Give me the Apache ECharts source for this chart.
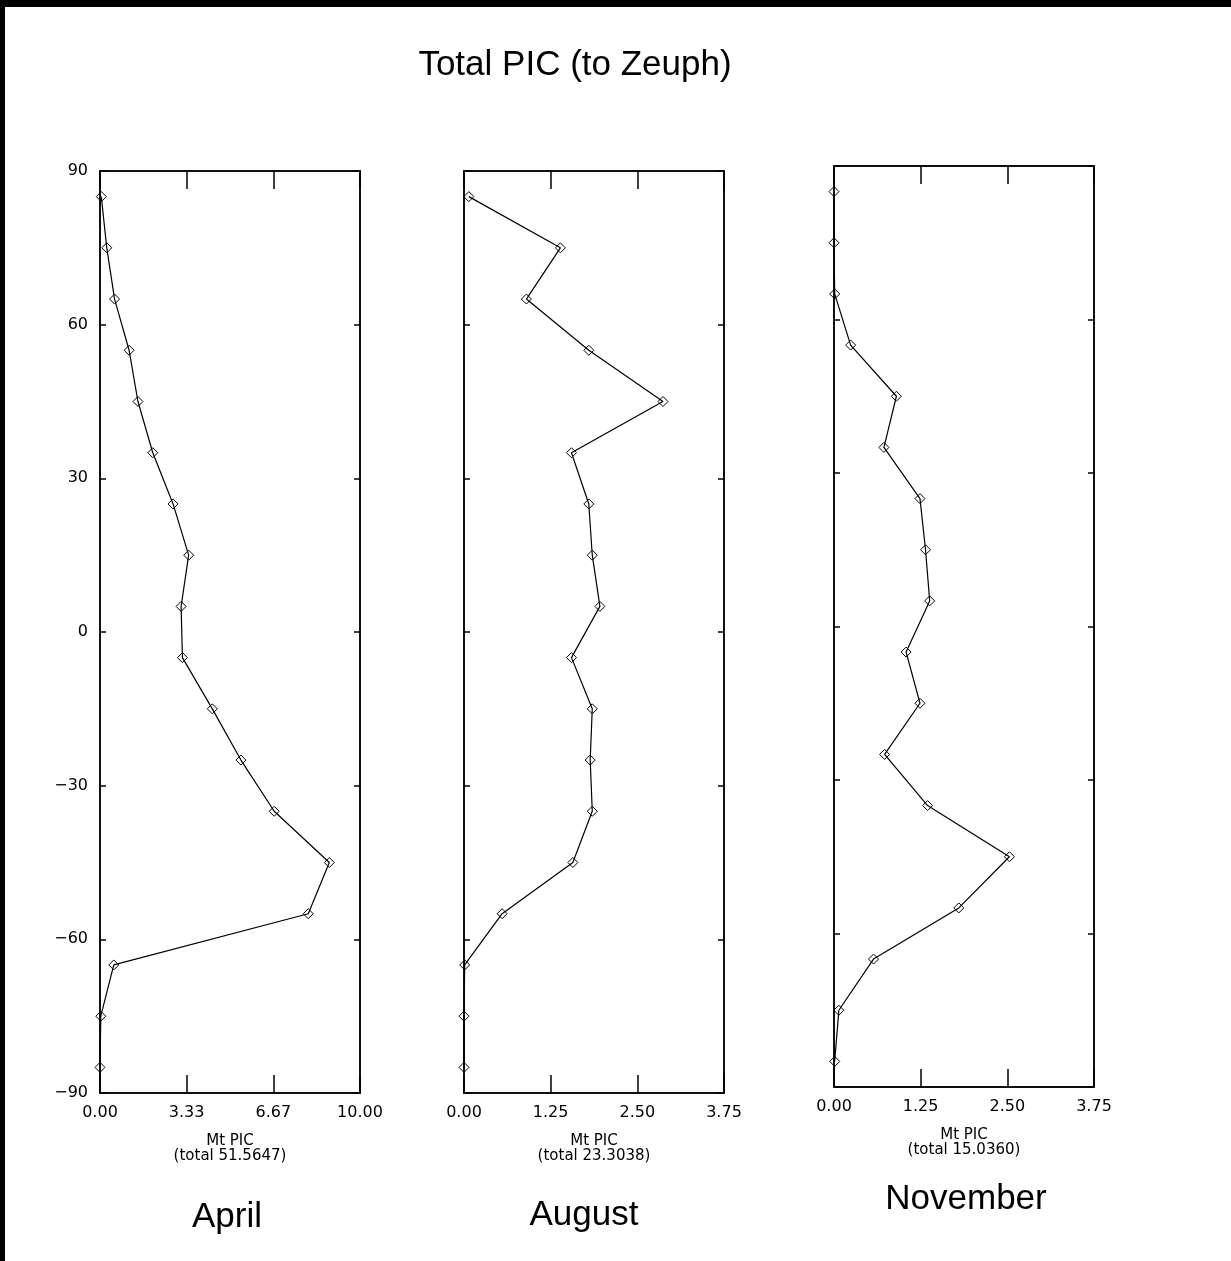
<!DOCTYPE html>
<html>
<head>
<meta charset="utf-8">
<script src="https://cdn.jsdelivr.net/npm/echarts@6/dist/echarts.min.js"></script>
<style>
  html, body { margin: 0; padding: 0; background: #000; }
  #paper { position: absolute; left: 5px; top: 7px; width: 1226px; height: 1254px; background: #fff; }
  #chart { position: absolute; left: 0; top: 0; width: 1231px; height: 1261px; }
</style>
</head>
<body>
<div id="paper"></div>
<div id="chart"></div>
<script>
// latitude bands (deg), one point per 10-degree band
const latitudes = [85, 75, 65, 55, 45, 35, 25, 15, 5, -5, -15, -25, -35, -45, -55, -65, -75, -85];

// Mt PIC per band
const aprilPIC    = [0.05, 0.26, 0.56, 1.12, 1.46, 2.03, 2.81, 3.41, 3.12, 3.17, 4.32, 5.42, 6.70, 8.82, 8.01, 0.53, 0.03, 0.00];
const augustPIC   = [0.07, 1.39, 0.90, 1.80, 2.87, 1.55, 1.80, 1.85, 1.96, 1.55, 1.85, 1.82, 1.85, 1.57, 0.55, 0.01, 0.00, 0.00];
const novemberPIC = [0.00, 0.00, 0.01, 0.24, 0.90, 0.72, 1.24, 1.32, 1.38, 1.04, 1.24, 0.73, 1.35, 2.53, 1.80, 0.57, 0.07, 0.01];

const monthNames = ['April', 'August', 'November'];
const totals = ['51.5647', '23.3038', '15.0360'];
const xMax = [10, 3.75, 3.75];
const xStep = [10 / 3, 1.25, 1.25];
const yTickLabels = { '90': '90', '60': '60', '30': '30', '0': '0', '-30': '\u221230', '-60': '\u221260', '-90': '\u221290' };

const chart = echarts.init(document.getElementById('chart'));

// panel boxes (left, top, width, height)
const boxes = [
  { left: 100, top: 171, width: 260, height: 922 },
  { left: 464, top: 171, width: 260, height: 922 },
  { left: 834, top: 166, width: 260, height: 921 }
];
const seriesData = [aprilPIC, augustPIC, novemberPIC];

const labelFont = { color: '#000', fontFamily: 'DejaVu Sans', fontSize: 16 };

const grids = [], xAxes = [], yAxes = [], series = [];
boxes.forEach((b, i) => {
  grids.push({ left: b.left, top: b.top, width: b.width, height: b.height,
    show: true, borderColor: '#000', borderWidth: 1.5, containLabel: false });

  // bottom + top x axes (ticks inward)
  ['bottom', 'top'].forEach(pos => {
    xAxes.push({
      type: 'value', gridIndex: i, position: pos,
      min: 0, max: xMax[i], interval: xStep[i],
      axisLine: { show: true, onZero: false, lineStyle: { color: '#000', width: 1.5 } },
      axisTick: { show: true, inside: true, length: 18, lineStyle: { color: '#000', width: 1.5 } },
      splitLine: { show: false },
      axisLabel: pos === 'bottom'
        ? Object.assign({ show: true, margin: 12, formatter: v => v.toFixed(2) }, labelFont)
        : { show: false },
      name: pos === 'bottom' ? 'Mt PIC\n(total ' + totals[i] + ')' : '',
      nameLocation: 'middle', nameGap: 41,
      nameTextStyle: { color: '#000', fontFamily: 'DejaVu Sans', fontSize: 15, lineHeight: 15 }
    });
  });

  // left + right y axes
  ['left', 'right'].forEach(pos => {
    yAxes.push({
      type: 'value', gridIndex: i, position: pos,
      min: -90, max: 90, interval: 30,
      axisLine: { show: true, onZero: false, lineStyle: { color: '#000', width: 1.5 } },
      axisTick: { show: true, inside: true, length: 6, lineStyle: { color: '#000', width: 1.5 } },
      splitLine: { show: false },
      axisLabel: (pos === 'left' && i === 0)
        ? Object.assign({ show: true, margin: 12, formatter: v => yTickLabels[String(v)] }, labelFont)
        : { show: false }
    });
  });

  series.push({
    type: 'line',
    xAxisIndex: i * 2,
    yAxisIndex: i * 2,
    data: latitudes.map((lat, k) => [seriesData[i][k], lat]),
    symbol: 'diamond',
    symbolSize: 10,
    showAllSymbol: true,
    clip: true,
    lineStyle: { color: '#000', width: 1.2 },
    itemStyle: { color: 'rgba(0,0,0,0)', borderColor: '#000', borderWidth: 1 },
    emphasis: { disabled: true },
    silent: true,
    animation: false
  });
});

const monthPos = [[222, 1195], [579, 1193], [961, 1177]];

const option = {
  backgroundColor: 'transparent',
  animation: false,
  title: [
    { text: 'Total PIC (to Zeuph)', left: 570, top: 43, textAlign: 'center',
      textStyle: { color: '#000', fontFamily: 'Liberation Sans', fontSize: 35, fontWeight: 'normal' } }
  ].concat(monthNames.map((m, i) => ({
    text: m, left: monthPos[i][0], top: monthPos[i][1], textAlign: 'center',
    textStyle: { color: '#000', fontFamily: 'Liberation Sans', fontSize: 35, fontWeight: 'normal' }
  }))),
  grid: grids,
  xAxis: xAxes,
  yAxis: yAxes,
  series: series
};

chart.setOption(option);
</script>
</body>
</html>
